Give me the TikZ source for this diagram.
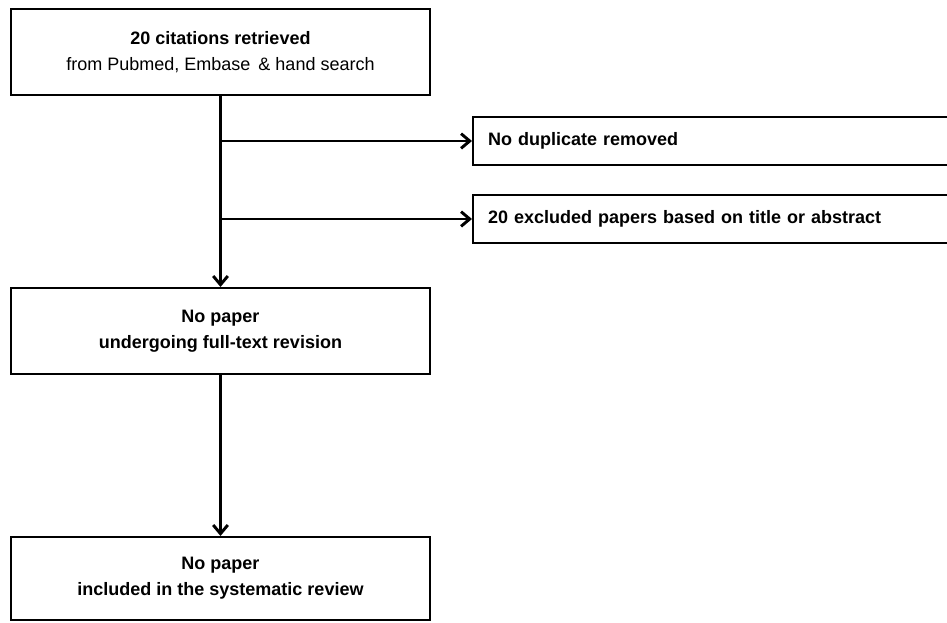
\documentclass[tikz,border=0pt]{standalone}
\usepackage{fontspec}
\setmainfont{Liberation Sans}
\usetikzlibrary{arrows.meta}
\begin{document}
\begin{tikzpicture}[x=0.75pt,y=-0.75pt,
  every node/.style={font=\fontsize{13.5}{19.5}\selectfont},
  mainbox/.style={draw,line width=1.6pt,minimum width=314.25pt,minimum height=64.5pt,align=center,inner sep=0pt},
  sidebox/.style={draw,line width=1.6pt,anchor=west,minimum height=36pt,inner xsep=11.25pt,inner ysep=0pt,text width=343.5pt,align=left},
  conn/.style={line width=2.2pt,-{Straight Barb[length=6.5pt,width=11pt,line width=2.2pt]}}]
\useasboundingbox (0,0) rectangle (947,622);
\clip (0,0) rectangle (947,622);
\node[mainbox] (b1) at (220.5,52) {\textbf{20 citations retrieved}\\from Pubmed, Embase \,\& hand search};
\node[sidebox] (r1) at (472,141) {\textbf{No duplicate removed}};
\node[sidebox] (r2) at (472,219) {\textbf{20 excluded papers based on title or abstract}};
\node[mainbox] (b2) at (220.5,331) {\textbf{No paper}\\\textbf{undergoing full-text revision}};
\node[mainbox,minimum height=62.25pt] (b3) at (220.5,578.5) {\textbf{No paper}\\\textbf{included in the systematic review}};
\draw[conn] (b1.south) -- (b2.north);
\draw[conn] (b1.south |- r1.west) -- (r1.west);
\draw[conn] (b1.south |- r2.west) -- (r2.west);
\draw[conn] (b2.south) -- (b3.north);
\end{tikzpicture}
\end{document}
